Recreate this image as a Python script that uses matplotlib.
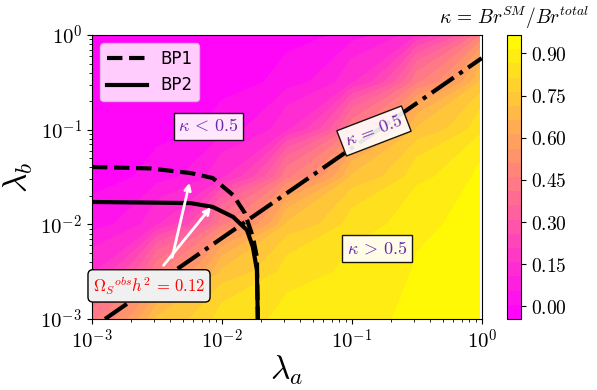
"""kappa = Br_SM / Br_total over the (lambda_a, lambda_b) plane."""

import matplotlib

matplotlib.use("Agg")
import matplotlib.pyplot as plt
import numpy as np
from matplotlib.ticker import FixedLocator, FuncFormatter, NullFormatter

plt.rcParams["mathtext.fontset"] = "cm"

# grid of log10(lambda_a), log10(lambda_b) and the kappa values
log_la = [-3.0, -2.5, -2.0, -1.5, -1.0, -0.5, -0.015]
log_lb = [-3.0, -2.5, -2.0, -1.5, -1.0, -0.5, 0.0]
kappa = [
    [0.45, 0.72, 0.84, 0.88, 0.90, 0.93, 0.96],
    [0.15, 0.45, 0.72, 0.84, 0.88, 0.92, 0.96],
    [0.03, 0.15, 0.45, 0.72, 0.84, 0.90, 0.95],
    [-0.02, 0.03, 0.15, 0.45, 0.72, 0.85, 0.93],
    [-0.03, -0.02, 0.03, 0.15, 0.45, 0.72, 0.85],
    [-0.04, -0.03, -0.02, 0.03, 0.15, 0.45, 0.72],
    [-0.045, -0.04, -0.03, -0.02, 0.03, 0.15, 0.45],
]

# relic-density curves for the two benchmark points
bp1_la = [1.0e-3, 2.8e-3, 5.7e-3, 8.5e-3, 0.0122, 0.0150, 0.0173, 0.0186, 0.0189]
bp1_lb = [0.0404, 0.0390, 0.0349, 0.0309, 0.0204, 0.0132, 7.4e-3, 4.5e-3, 1.0e-3]
bp2_la = [1.0e-3, 5.7e-3, 8.5e-3, 0.0122, 0.0156, 0.0173, 0.0186, 0.0189]
bp2_lb = [0.01725, 0.0168, 0.0153, 0.0120, 8.7e-3, 5.8e-3, 3.3e-3, 1.0e-3]

# kappa = 0.5 boundary
half_la = [1.26e-3, 1.0]
half_lb = [1.0e-3, 0.571]

# arrows from the relic label to the curves (tail, head)
arrows = [((4.1e-3, 4.2e-3), (5.7e-3, 0.0294)), ((3.45e-3, 3.5e-3), (8.5e-3, 0.0160))]

LABEL_COLOR = "#6a2aa8"

fig = plt.figure(figsize=(5.97, 3.9), dpi=100)
ax = fig.add_axes([0.154, 0.182, 0.653, 0.728])
cax = fig.add_axes([0.849, 0.182, 0.024, 0.728])

X, Y = np.meshgrid(10 ** np.array(log_la), 10 ** np.array(log_lb))
levels = np.linspace(-0.045, 0.965, 21)
cs = ax.contourf(X, Y, np.array(kappa), levels=levels, cmap="spring")

ax.plot(bp1_la, bp1_lb, "--", color="black", lw=3, label="BP1")
ax.plot(bp2_la, bp2_lb, "-", color="black", lw=3, label="BP2")
ax.plot(half_la, half_lb, "-.", color="black", lw=3)

for tail, head in arrows:
    ax.annotate("", xy=head, xytext=tail,
                arrowprops=dict(arrowstyle="->", color="white", lw=2))

ax.text(2.75e-3, 2.24e-3, r"$\Omega_S{}^{obs}h^2 \,=\, 0.12$", color="red", fontsize=12,
        ha="center", va="center",
        bbox=dict(boxstyle="round,pad=0.3", fc="#f0f0f0", ec="black"))
box = dict(boxstyle="square,pad=0.25", fc="white", ec="black", alpha=0.9)
ax.text(7.9e-3, 0.109, r"$\kappa \,<\, 0.5$", color=LABEL_COLOR, fontsize=13,
        ha="center", va="center", bbox=box)
ax.text(0.156, 5.5e-3, r"$\kappa \,>\, 0.5$", color=LABEL_COLOR, fontsize=13,
        ha="center", va="center", bbox=box)
ax.text(0.148, 0.097, r"$\kappa \,=\, 0.5$", color=LABEL_COLOR, fontsize=13,
        ha="center", va="center", rotation=21, bbox=box)

ax.set_xscale("log")
ax.set_yscale("log")
ax.set_xlim(1e-3, 1)
ax.set_ylim(1e-3, 1)
decades = FuncFormatter(lambda v, _: r"$10^{%d}$" % round(np.log10(v)))
ax.xaxis.set_major_formatter(decades)
ax.yaxis.set_major_formatter(decades)
ax.xaxis.set_minor_formatter(NullFormatter())
ax.yaxis.set_minor_formatter(NullFormatter())
ax.tick_params(labelsize=15)
ax.set_xlabel(r"$\lambda_a$", fontsize=24, labelpad=0)
ax.set_ylabel(r"$\lambda_b$", fontsize=24)

ax.legend(loc="upper left", fontsize=12, handlelength=2.4, framealpha=0.8)

cbar = fig.colorbar(cs, cax=cax)
cbar.set_ticks(FixedLocator([0.0, 0.15, 0.30, 0.45, 0.60, 0.75, 0.90]))
cbar.ax.yaxis.set_major_formatter(FuncFormatter(lambda v, _: r"$%.2f$" % v))
cbar.ax.tick_params(labelsize=14)
cbar.ax.set_title(r"$\kappa \,=\, Br^{SM}/Br^{total}$", fontsize=14, pad=8)

fig.savefig("out.png", dpi=100)
